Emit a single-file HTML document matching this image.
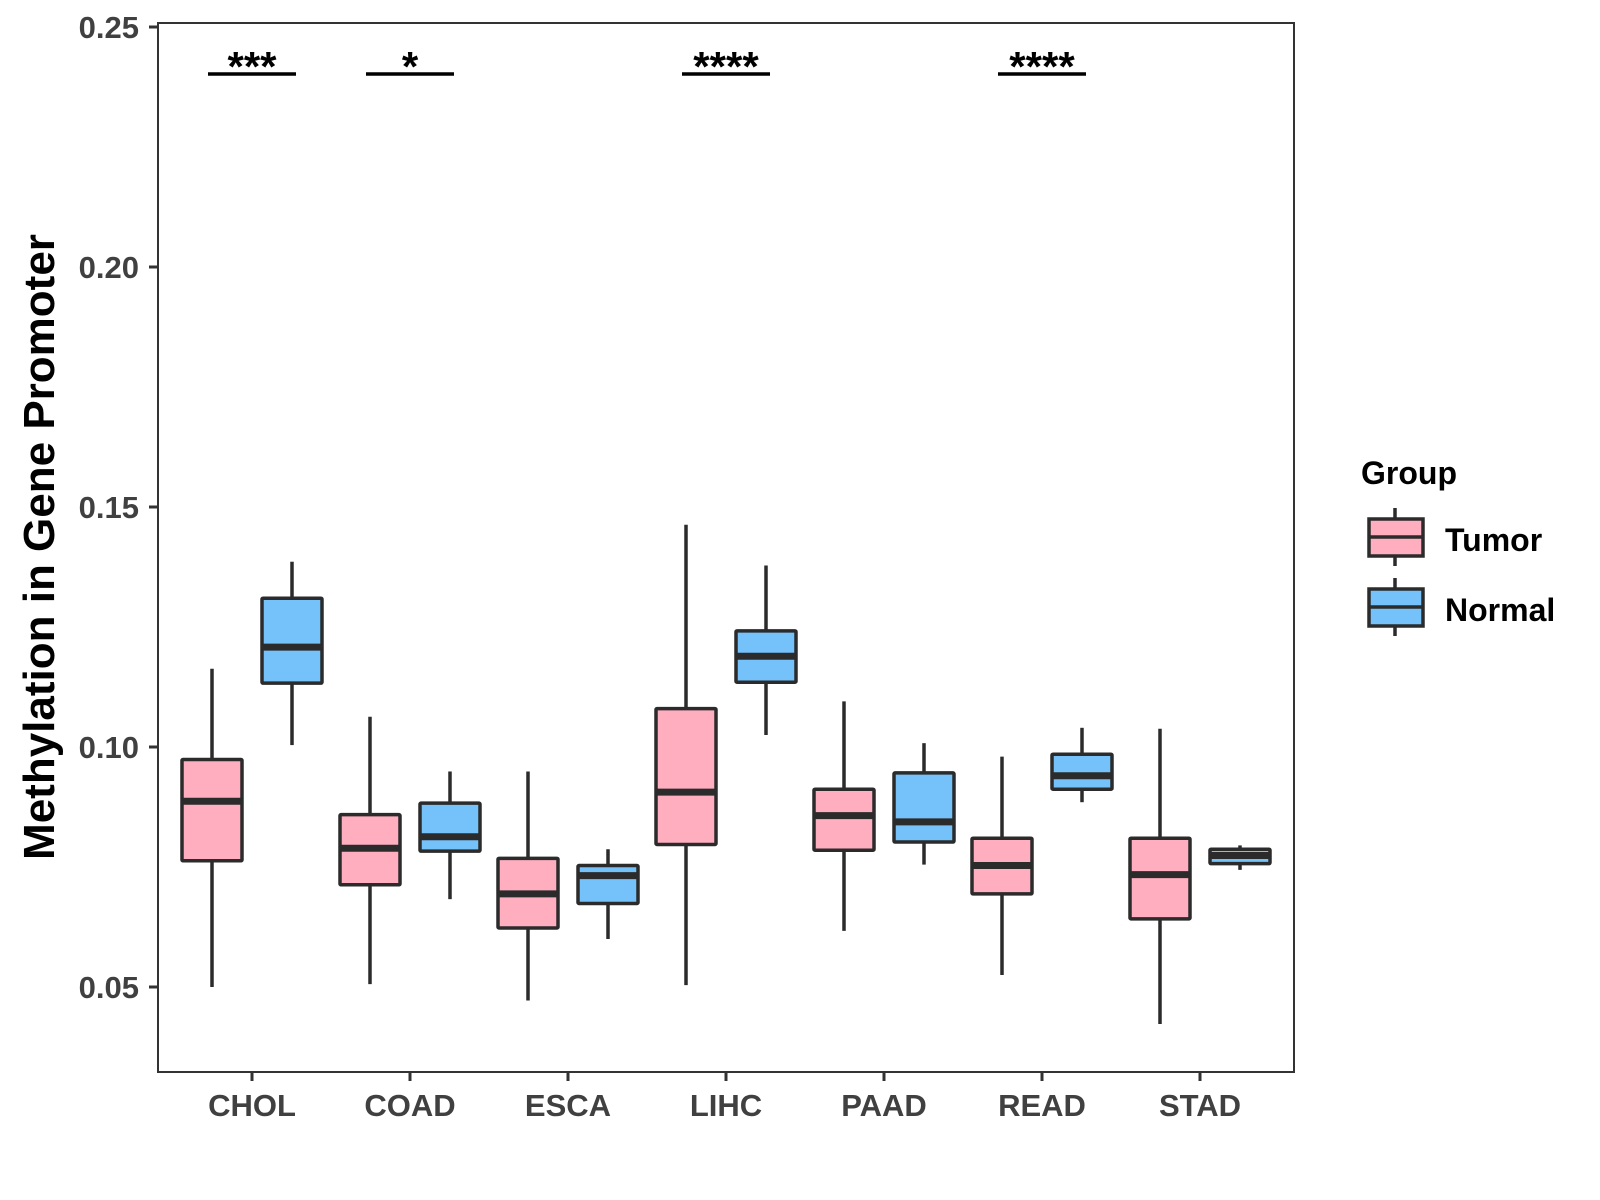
<!DOCTYPE html>
<html><head><meta charset="utf-8"><style>
html,body{margin:0;padding:0;background:#fff;}
svg{display:block;font-family:"Liberation Sans",sans-serif;font-weight:bold;}
</style></head><body>
<svg id="chart" width="1600" height="1200" viewBox="0 0 1600 1200" xmlns="http://www.w3.org/2000/svg">
<rect x="158" y="23" width="1136" height="1049" fill="#fff" stroke="#333" stroke-width="2"/>
<g id="yaxis"></g>
<g id="xaxis"></g>
<g id="boxes"></g>
<g id="sig"></g>
<text transform="translate(54,547) rotate(-90)" text-anchor="middle" font-size="44" fill="#000">Methylation in Gene Promoter</text>
<g>
<text x="1361" y="484" font-size="32" fill="#000">Group</text>
<g>
<line x1="1395" y1="508" x2="1395" y2="566" stroke="#2b2b2b" stroke-width="3.5"/>
<rect x="1369" y="519" width="54" height="37" fill="#FFAEC0" stroke="#2b2b2b" stroke-width="3.5"/>
<line x1="1369" y1="537" x2="1423" y2="537" stroke="#2b2b2b" stroke-width="3.5"/>
<text x="1445" y="551" font-size="32" fill="#000">Tumor</text>
</g>
<g>
<line x1="1395" y1="578" x2="1395" y2="636" stroke="#2b2b2b" stroke-width="3.5"/>
<rect x="1369" y="589" width="54" height="37" fill="#75C1FA" stroke="#2b2b2b" stroke-width="3.5"/>
<line x1="1369" y1="607" x2="1423" y2="607" stroke="#2b2b2b" stroke-width="3.5"/>
<text x="1445" y="621" font-size="32" fill="#000">Normal</text>
</g>
</g>
</svg>
<script>
const categories = ["CHOL","COAD","ESCA","LIHC","PAAD","READ","STAD"];
// [whiskerLow, q1, median, q3, whiskerHigh]
const tumorStats = [
 [0.0500,0.0763,0.0887,0.0974,0.1163],
 [0.0506,0.0713,0.0789,0.0859,0.1063],
 [0.0472,0.0623,0.0694,0.0768,0.0949],
 [0.0504,0.0797,0.0906,0.1080,0.1463],
 [0.0617,0.0785,0.0857,0.0912,0.1095],
 [0.0525,0.0694,0.0753,0.0810,0.0980],
 [0.0423,0.0642,0.0734,0.0810,0.1038]
];
const normalStats = [
 [0.1004,0.1133,0.1208,0.1310,0.1386],
 [0.0683,0.0783,0.0813,0.0883,0.0949],
 [0.0600,0.0674,0.0732,0.0753,0.0787],
 [0.1025,0.1135,0.1189,0.1242,0.1378],
 [0.0755,0.0802,0.0844,0.0946,0.1008],
 [0.0885,0.0912,0.0940,0.0985,0.1040],
 [0.0744,0.0757,0.0774,0.0787,0.0795]
];
const yTicks = [0.05,0.10,0.15,0.20,0.25];
const yTickLabels = ["0.05","0.10","0.15","0.20","0.25"];
const sigLabels = ["***","*","","****","","****",""];
const sigLevel = 0.2402;

const NS="http://www.w3.org/2000/svg";
function y(v){return 987-(v-0.05)*4800;}
function x(i){return 252+158*i;}
function mk(tag,attrs,parent){const e=document.createElementNS(NS,tag);for(const k in attrs)e.setAttribute(k,attrs[k]);parent.appendChild(e);return e;}
const ya=document.getElementById('yaxis'),xa=document.getElementById('xaxis'),bx=document.getElementById('boxes'),sg=document.getElementById('sig');
yTicks.forEach((t,i)=>{
 const l=mk('line',{x1:149,x2:158,y1:y(t),y2:y(t),stroke:'#333','stroke-width':3},ya);
 
 
 const tx=mk('text',{x:139,y:y(t)+11,'text-anchor':'end','font-size':31,fill:'#404040'},ya);
 tx.textContent=yTickLabels[i];
 
 
});
categories.forEach((c,i)=>{
 const l=mk('line',{x1:x(i),x2:x(i),y1:1072,y2:1081,stroke:'#333','stroke-width':3},xa);
 
 
 const tx=mk('text',{x:x(i),y:1116,'text-anchor':'middle','font-size':31,fill:'#404040'},xa);
 tx.textContent=c;
 
 
});
function box(s,cx,fill,name){
 const g=mk('g',{},bx);
 
 
 const w=60,st='#2b2b2b';
 mk('line',{x1:cx,x2:cx,y1:y(s[4]),y2:y(s[3]),stroke:st,'stroke-width':3.5},g);
 mk('line',{x1:cx,x2:cx,y1:y(s[1]),y2:y(s[0]),stroke:st,'stroke-width':3.5},g);
 mk('rect',{x:cx-w/2,y:y(s[3]),width:w,height:y(s[1])-y(s[3]),fill:fill,stroke:st,'stroke-width':3.5,rx:1},g);
 mk('line',{x1:cx-w/2,x2:cx+w/2,y1:y(s[2]),y2:y(s[2]),stroke:st,'stroke-width':7},g);
}
categories.forEach((c,i)=>{
 box(tumorStats[i],x(i)-40,'#FFAEC0','box-'+c.toLowerCase()+'-tumor');
 box(normalStats[i],x(i)+40,'#75C1FA','box-'+c.toLowerCase()+'-normal');
 if(sigLabels[i]){
  const l=mk('line',{x1:x(i)-44,x2:x(i)+44,y1:y(sigLevel),y2:y(sigLevel),stroke:'#000','stroke-width':3.5},sg);
  
  
  const t=mk('text',{x:x(i),y:y(sigLevel)+7,'text-anchor':'middle','font-size':42,fill:'#000'},sg);
  t.textContent=sigLabels[i];
  
  
 }
});
</script>
</body></html>
